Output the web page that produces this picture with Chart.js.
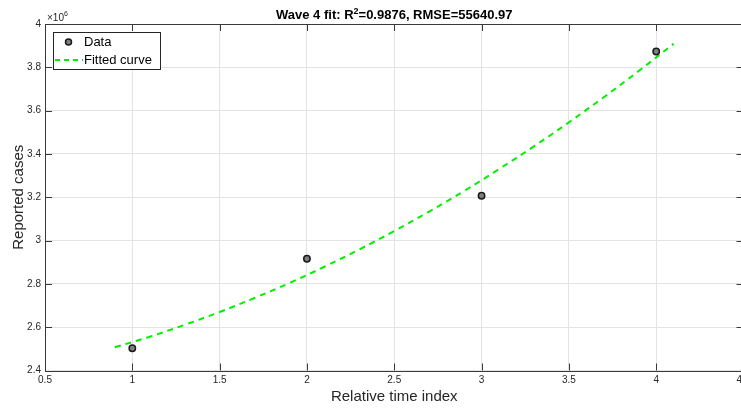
<!DOCTYPE html>
<html lang="en">
<head>
    <meta charset="UTF-8">
    <title>Wave 4 fit</title>
    <script src="https://cdn.jsdelivr.net/npm/chart.js"></script>
    <style>
        html, body { margin: 0; padding: 0; background: #ffffff; overflow: hidden; }
        #wrap { width: 749px; height: 408px; }
    </style>
</head>
<body>
    <div id="wrap"><canvas id="fit-chart" width="749" height="408"></canvas></div>

    <script>
        const dataX = [1, 2, 3, 4];
        const dataY = [2503000, 2916000, 3207000, 3873000];

        // Fitted curve samples
        const fitX = [0.9, 1.1, 1.3, 1.5, 1.7, 1.9, 2.1, 2.3, 2.5, 2.7, 2.9, 3.1, 3.3, 3.5, 3.7, 3.9, 4.1];
        const fitY = [2507000, 2556000, 2611000, 2670000, 2735000, 2804000, 2879000, 2959000, 3044000,
                      3134000, 3229000, 3330000, 3435000, 3546000, 3662000, 3783000, 3909000];

        const titleParts = ['Wave 4 fit: R', '2', '=0.9876, RMSE=55640.97'];
        const legendLabels = ['Data', 'Fitted curve'];
        const xTitle = 'Relative time index';
        const yTitle = 'Reported cases';

        const FONT = '"Liberation Sans", Arial, Helvetica, sans-serif';
        const TEXT = '#262626';
        const AXIS = '#3a3a3a';
        const GREEN = '#00f000';

        // MATLAB-like frame: box, inward ticks, exponent label, title, legend
        const matlabFrame = {
            id: 'matlabFrame',
            afterDatasetsDraw(chart) {
                const ctx = chart.ctx;
                const a = chart.chartArea;
                const xs = chart.scales.x, ys = chart.scales.y;
                const tl = 7;
                ctx.save();
                ctx.strokeStyle = AXIS;
                ctx.lineWidth = 1;
                ctx.beginPath();
                xs.ticks.forEach(t => {
                    const px = Math.round(xs.getPixelForValue(t.value)) + 0.5;
                    ctx.moveTo(px, a.bottom); ctx.lineTo(px, a.bottom - tl);
                    ctx.moveTo(px, a.top); ctx.lineTo(px, a.top + tl);
                });
                ys.ticks.forEach(t => {
                    const py = Math.round(ys.getPixelForValue(t.value)) + 0.5;
                    ctx.moveTo(a.left, py); ctx.lineTo(a.left + tl, py);
                    ctx.moveTo(a.right, py); ctx.lineTo(a.right - tl, py);
                });
                ctx.stroke();
                ctx.strokeRect(Math.round(a.left) + 0.5, Math.round(a.top) + 0.5,
                               Math.round(a.right - a.left) - 1, Math.round(a.bottom - a.top));

                // exponent label
                ctx.fillStyle = TEXT;
                ctx.textBaseline = 'alphabetic';
                ctx.textAlign = 'left';
                ctx.font = '10px ' + FONT;
                ctx.fillText('\u00d710', a.left + 2, a.top - 3);
                const ew = ctx.measureText('\u00d710').width;
                ctx.font = '7px ' + FONT;
                ctx.fillText('6', a.left + 2 + ew, a.top - 8);

                // title with superscript
                ctx.fillStyle = '#000';
                ctx.font = 'bold 13px ' + FONT;
                const w0 = ctx.measureText(titleParts[0]).width;
                const w2 = ctx.measureText(titleParts[2]).width;
                ctx.font = 'bold 9px ' + FONT;
                const w1 = ctx.measureText(titleParts[1]).width;
                let tx = (a.left + a.right) / 2 - (w0 + w1 + w2) / 2;
                const ty = 18.5;
                ctx.font = 'bold 13px ' + FONT;
                ctx.fillText(titleParts[0], tx, ty);
                tx += w0;
                ctx.font = 'bold 9px ' + FONT;
                ctx.fillText(titleParts[1], tx, ty - 5);
                tx += w1;
                ctx.font = 'bold 13px ' + FONT;
                ctx.fillText(titleParts[2], tx, ty);

                // legend box
                const lx = 53, ly = 32, lw = 107, lh = 37;
                ctx.fillStyle = '#fff';
                ctx.fillRect(lx, ly, lw, lh);
                ctx.strokeStyle = '#262626';
                ctx.strokeRect(lx + 0.5, ly + 0.5, lw, lh);
                ctx.font = '13px ' + FONT;
                ctx.textBaseline = 'middle';
                ctx.fillStyle = '#000';
                ctx.fillText(legendLabels[0], 84, 42);
                ctx.fillText(legendLabels[1], 84, 60);
                ctx.beginPath();
                ctx.arc(68.5, 42, 3, 0, Math.PI * 2);
                ctx.fillStyle = '#7f7f7f';
                ctx.fill();
                ctx.lineWidth = 1.5;
                ctx.strokeStyle = '#1a1a1a';
                ctx.stroke();
                ctx.beginPath();
                ctx.setLineDash([5, 4]);
                ctx.lineWidth = 2;
                ctx.strokeStyle = GREEN;
                ctx.moveTo(55, 60); ctx.lineTo(83, 60);
                ctx.stroke();
                ctx.restore();
            }
        };

        new Chart(document.getElementById('fit-chart'), {
            type: 'scatter',
            data: {
                datasets: [
                    {
                        label: legendLabels[1],
                        data: fitX.map((x, i) => ({ x: x, y: fitY[i] })),
                        showLine: true,
                        borderColor: GREEN,
                        borderWidth: 2,
                        borderDash: [6, 5],
                        pointRadius: 0,
                        tension: 0.4,
                        order: 2
                    },
                    {
                        label: legendLabels[0],
                        data: dataX.map((x, i) => ({ x: x, y: dataY[i] })),
                        showLine: false,
                        pointRadius: 3.2,
                        pointBackgroundColor: '#7f7f7f',
                        pointBorderColor: '#1a1a1a',
                        pointBorderWidth: 1.5,
                        order: 1
                    }
                ]
            },
            options: {
                responsive: false,
                animation: false,
                layout: { padding: { top: 24, right: 0, left: 0, bottom: 0 } },
                plugins: { legend: { display: false }, tooltip: { enabled: false } },
                scales: {
                    x: {
                        type: 'linear',
                        min: 0.5, max: 4.5,
                        ticks: {
                            stepSize: 0.5, color: TEXT, font: { family: FONT, size: 10 }, padding: 4, maxRotation: 0,
                            callback: v => String(v)
                        },
                        grid: { color: '#e3e3e3', drawTicks: false },
                        border: { display: false },
                        title: { display: true, text: xTitle, color: TEXT, font: { family: FONT, size: 15 }, padding: { top: 0, bottom: 2 } },
                        afterFit(s) { s.height = 37.5; s.paddingRight = 0; s.paddingLeft = 0; }
                    },
                    y: {
                        min: 2400000, max: 4000000,
                        ticks: {
                            stepSize: 200000, color: TEXT, font: { family: FONT, size: 10 }, padding: 4,
                            callback: v => String(Math.round(v / 1e5) / 10)
                        },
                        grid: { color: '#e3e3e3', drawTicks: false },
                        border: { display: false },
                        title: { display: true, text: yTitle, color: TEXT, font: { family: FONT, size: 15 }, padding: { top: 10, bottom: 0 } },
                        afterFit(s) { s.width = 45; s.paddingTop = 0; s.paddingBottom = 0; }
                    }
                }
            },
            plugins: [matlabFrame]
        });
    </script>
</body>
</html>
